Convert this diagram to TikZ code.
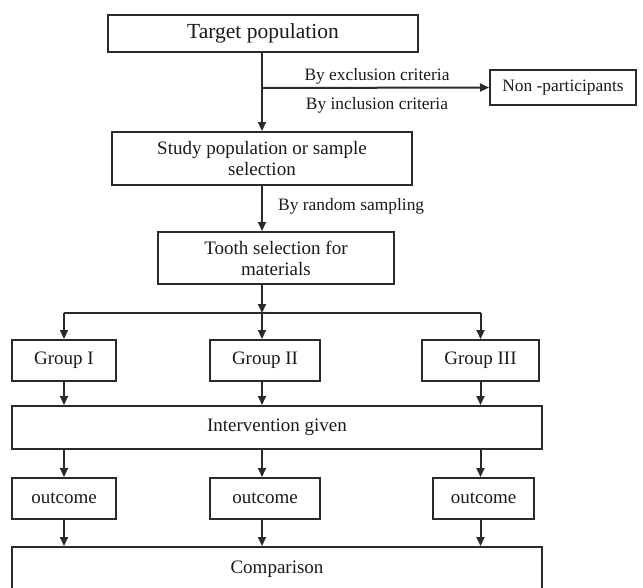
\documentclass[tikz,border=0pt]{standalone}
\usepackage{fontspec}
\setmainfont{Liberation Serif}
\usetikzlibrary{arrows.meta,positioning}
\definecolor{ln}{HTML}{2A2A2A}
\definecolor{tx}{HTML}{1A1A1A}
\tikzset{
  box/.style={draw=ln, line width=2pt, rectangle, inner sep=0pt, text=tx, align=center,
    font=\fontsize{19}{21}\selectfont},
  lbl/.style={text=tx, inner sep=0pt, font=\fontsize{17.4}{20}\selectfont},
  arr/.style={draw=ln, line width=2pt, -{Triangle[length=9pt,width=8pt]}},
  ln/.style={draw=ln, line width=2pt},
}
\begin{document}
\begin{tikzpicture}[x=1pt,y=-1pt]
\useasboundingbox (0,0) rectangle (643,587);
\clip (0,0) rectangle (643,587);
% boxes (px coordinates, y down)
\node[box, minimum width=310pt, minimum height=37pt, font=\fontsize{21.5}{24}\selectfont] (target) at (263,33.5) {Target population};
\node[box, minimum width=146pt, minimum height=35pt, font=\fontsize{17.4}{20}\selectfont] (nonpart) at (563,87.5) {Non -participants};
\node[box, minimum width=300pt, minimum height=53pt] (study) at (262,158.5) {Study population or sample\\selection};
\node[box, minimum width=236pt, minimum height=52pt] (tooth) at (276,258) {Tooth selection for\\materials};
\node[box, minimum width=104pt, minimum height=41pt] (g1) at (64,360.5) {Group I};
\node[box, minimum width=110pt, minimum height=41pt] (g2) at (265,360.5) {Group II};
\node[box, minimum width=117pt, minimum height=41pt] (g3) at (480.5,360.5) {Group III};
\node[box, minimum width=530pt, minimum height=43pt] (inter) at (277,427.5) {Intervention given};
\node[box, minimum width=104pt, minimum height=41pt] (o1) at (64,498.5) {outcome};
\node[box, minimum width=110pt, minimum height=41pt] (o2) at (265,498.5) {outcome};
\node[box, minimum width=101pt, minimum height=41pt] (o3) at (483.5,498.5) {outcome};
\node[box, minimum width=530pt, minimum height=44pt] (comp) at (277,569) {Comparison};
% labels
\node[lbl] (lex) at (377,76) {By exclusion criteria};
\node[lbl] (lin) at (377,105) {By inclusion criteria};
\node[lbl, anchor=west] (lrs) at (278,206) {By random sampling};
% connectors
\coordinate (br) at (262,88);
\draw[arr] (study.north |- target.south) -- (study.north);
\draw[arr] (br) -- (nonpart.west);
\draw[arr] (study.south) -- (study.south |- tooth.north);
\coordinate (bm) at (262,313);
\draw[arr] (study.south |- tooth.south) -- (bm);
\draw[ln] (g1.north |- bm) -- (g3.north |- bm);
\draw[arr] (g1.north |- bm) -- (g1.north);
\draw[arr] (bm) -- (bm |- g2.north);
\draw[arr] (g3.north |- bm) -- (g3.north);
\draw[arr] (g1.south) -- (g1.south |- inter.north);
\draw[arr] (bm |- g2.south) -- (bm |- inter.north);
\draw[arr] (g3.south) -- (g3.south |- inter.north);
\draw[arr] (g1.south |- inter.south) -- (o1.north);
\draw[arr] (bm |- inter.south) -- (bm |- o2.north);
\draw[arr] (g3.south |- inter.south) -- (g3.south |- o3.north);
\draw[arr] (o1.south) -- (o1.south |- comp.north);
\draw[arr] (bm |- o2.south) -- (bm |- comp.north);
\draw[arr] (g3.south |- o3.south) -- (g3.south |- comp.north);
\end{tikzpicture}
\end{document}
